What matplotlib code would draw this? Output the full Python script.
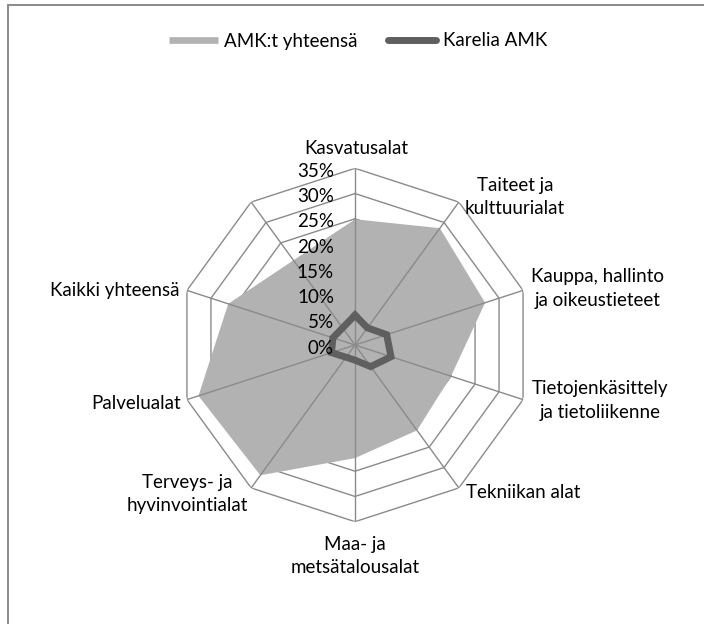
import matplotlib
matplotlib.use("Agg")
import matplotlib.pyplot as plt
import numpy as np
from matplotlib.lines import Line2D
from matplotlib.patches import Rectangle

plt.rcParams["font.family"] = ["Lato", "DejaVu Sans"]

# categories clockwise from the top; the last spoke has no label and no data
categories = ["Kasvatusalat", "Taiteet ja\nkulttuurialat", "Kauppa, hallinto\nja oikeustieteet",
              "Tietojenkäsittely\nja tietoliikenne", "Tekniikan alat", "Maa- ja\nmetsätalousalat",
              "Terveys- ja\nhyvinvointialat", "Palvelualat", "Kaikki yhteensä", ""]
amk_total = [24.9, 28.6, 27.1, 20.0, 20.9, 22.4, 31.9, 32.6, 26.4, None]
karelia = [5.9, 4.2, 6.6, 7.5, 5.3, 3.0, 3.0, 4.9, 4.6, None]
rings = [0, 5, 10, 15, 20, 25, 30, 35]
ring_labels = ["0%", "5%", "10%", "15%", "20%", "25%", "30%", "35%"]

# label offsets (pixels) and alignment per category
label_pos = [((1, 20), "center"), ((6, 5), "left"), ((8, 2), "left"), ((9, -1), "left"),
             ((7, -5), "left"), ((0, -34), "center"), ((-3, -6), "right"),
             ((-6, -4), "right"), ((-7, 0), "right"), ((0, 0), "center")]

GRID = "#8a8a8a"
FILL = "#b2b2b2"
LINE = "#5f5f5f"
FS = 13.5

W, H = 704, 624
fig = plt.figure(figsize=(W / 100, H / 100), dpi=100)

cx, cy, rad = 355, 345, 176.7
ax = fig.add_axes([(cx - rad) / W, 1 - (cy + rad) / H, 2 * rad / W, 2 * rad / H], polar=True)
ax.set_theta_offset(np.pi / 2)
ax.set_theta_direction(-1)
ax.set_ylim(0, 35)
ax.grid(False)
ax.spines["polar"].set_visible(False)
ax.set_xticks([])
ax.set_yticks([])
ax.patch.set_alpha(0)

n = len(categories)
angles = np.linspace(0, 2 * np.pi, n, endpoint=False)
closed = np.append(angles, angles[0])

# decagon rings
for r in rings[1:]:
    ax.plot(closed, [r] * (n + 1), color=GRID, lw=1.0, zorder=1)

# series, skipping the empty category
idx = [i for i, v in enumerate(amk_total) if v is not None]
idx_c = idx + [idx[0]]
ax.fill(angles[idx_c], [amk_total[i] for i in idx_c], color=FILL, lw=0, zorder=2)

# spokes over the fill
for a in angles:
    ax.plot([a, a], [0, 35], color=GRID, lw=1.0, zorder=3)

ax.plot(angles[idx_c], [karelia[i] for i in idx_c], color=LINE, lw=5.0,
        solid_joinstyle="miter", zorder=4)

for r, lab in zip(rings, ring_labels):
    ax.annotate(lab, xy=(0, r), xytext=(-21, -3), textcoords="offset pixels",
                ha="right", va="center", fontsize=FS, zorder=5)

for a, lab, (off, ha) in zip(angles, categories, label_pos):
    if not lab:
        continue
    ax.annotate(lab, xy=(a, 35), xytext=off, textcoords="offset pixels",
                ha=ha, va="center", multialignment="center", fontsize=FS,
                linespacing=1.45, annotation_clip=False)

handles = [Line2D([], [], color=FILL, lw=4.8, solid_capstyle="butt"),
           Line2D([], [], color=LINE, lw=5.0, solid_capstyle="round")]
fig.legend(handles, ["AMK:t yhteensä", "Karelia AMK"], loc="center",
           bbox_to_anchor=(358 / W, 1 - 41 / H), ncol=2, frameon=False, fontsize=FS,
           handlelength=2.6, handletextpad=0.35, columnspacing=1.6)

fig.add_artist(Rectangle((8 / W, -0.1), 1.2, 1 - 5 / H + 0.1, transform=fig.transFigure,
                         fill=False, edgecolor=GRID, lw=1.4))

fig.savefig("out.png", dpi=100, facecolor="white")
